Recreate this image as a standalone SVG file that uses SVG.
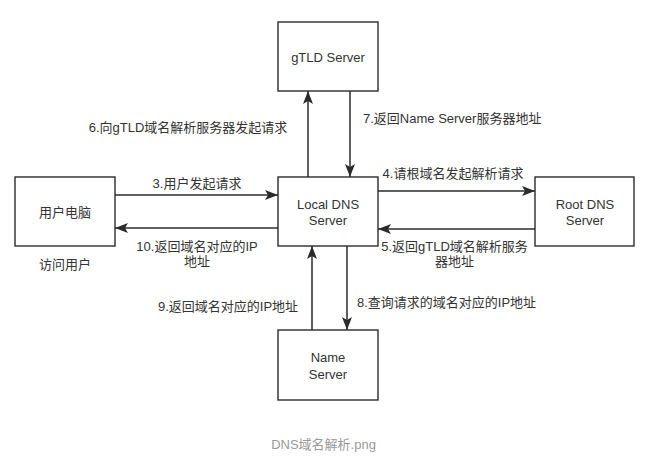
<svg xmlns="http://www.w3.org/2000/svg" width="652" height="460" viewBox="0 0 652 460">
<style>
.box{fill:#ffffff;stroke:#2b2b2b;stroke-width:1.4}
.t{font-family:"Liberation Sans","Noto Sans CJK SC",sans-serif;font-size:13px;fill:#333333;text-anchor:middle}
.s{text-anchor:start}
.cap{fill:#999999}
.edge{stroke:#2b2b2b;stroke-width:1.5;fill:none;marker-end:url(#arr)}
</style>
<defs>
<marker id="arr" viewBox="0 0 13 10" refX="13" refY="5" markerWidth="13" markerHeight="10" orient="auto" markerUnits="userSpaceOnUse">
<path d="M0,0 L13,5 L0,10 L3,5 z" fill="#2b2b2b"/>
</marker>
</defs>
<rect width="652" height="460" fill="#ffffff"/>
<g id="connectors">
<line class="edge" x1="308" y1="177" x2="308" y2="91"/>
<line class="edge" x1="350" y1="91" x2="350" y2="177"/>
<line class="edge" x1="115" y1="195" x2="278" y2="195"/>
<line class="edge" x1="278" y1="228" x2="115" y2="228"/>
<line class="edge" x1="378" y1="191" x2="535" y2="191"/>
<line class="edge" x1="535" y1="229" x2="378" y2="229"/>
<line class="edge" x1="312" y1="330" x2="312" y2="246"/>
<line class="edge" x1="347" y1="246" x2="347" y2="330"/>
<text class="t" x="188" y="132">6.向gTLD域名解析服务器发起请求</text>
<text class="t s" x="363" y="123">7.返回Name Server服务器地址</text>
<text class="t" x="197" y="188">3.用户发起请求</text>
<text class="t" x="453" y="178">4.请根域名发起解析请求</text>
<text class="t" x="197" y="250.5">10.返回域名对应的IP</text>
<text class="t" x="197" y="265.5">地址</text>
<text class="t" x="454.5" y="250.5">5.返回gTLD域名解析服务</text>
<text class="t" x="454.5" y="265.5">器地址</text>
<text class="t" x="228" y="310.5">9.返回域名对应的IP地址</text>
<text class="t s" x="357" y="306.5">8.查询请求的域名对应的IP地址</text>
</g>
<g id="gtld">
<rect class="box" x="278" y="22" width="100" height="69"/>
<text class="t" x="328" y="61.5">gTLD Server</text>
</g>
<g id="user">
<rect class="box" x="15" y="177" width="100" height="69"/>
<text class="t" x="65" y="216.5">用户电脑</text>
<text class="t" x="65" y="268.5">访问用户</text>
</g>
<g id="local">
<rect class="box" x="278" y="177" width="100" height="69"/>
<text class="t" x="328" y="208.5">Local DNS</text>
<text class="t" x="328" y="224.5">Server</text>
</g>
<g id="root">
<rect class="box" x="535" y="177" width="99" height="69"/>
<text class="t" x="585" y="208.5">Root DNS</text>
<text class="t" x="585" y="224.5">Server</text>
</g>
<g id="name">
<rect class="box" x="278" y="330" width="100" height="70"/>
<text class="t" x="328" y="362">Name</text>
<text class="t" x="328" y="378.5">Server</text>
</g>
<text class="t cap" x="323.5" y="448.5">DNS域名解析.png</text>
</svg>
